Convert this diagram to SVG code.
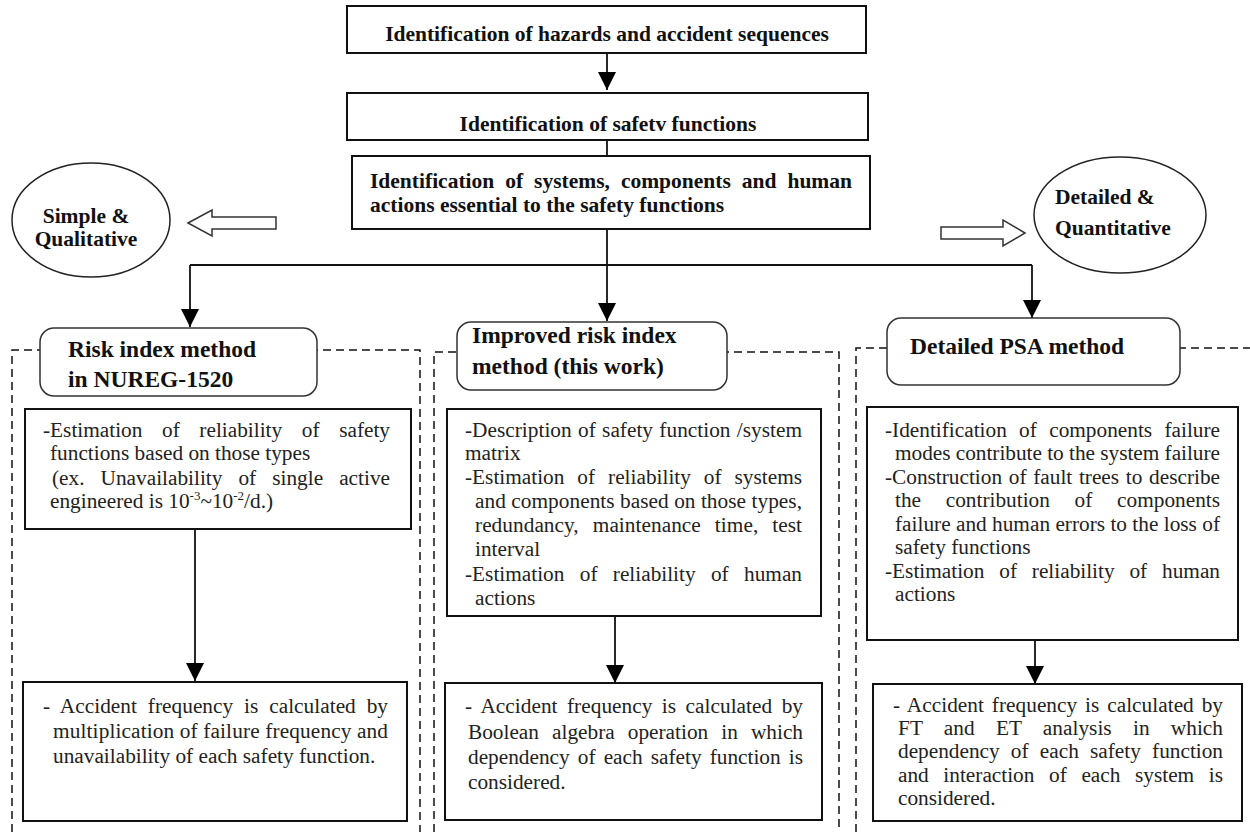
<svg xmlns="http://www.w3.org/2000/svg" width="1250" height="832" viewBox="0 0 1250 832">
<style>
.box{fill:#fff;stroke:#111;stroke-width:2}
.hdr{fill:#fff;stroke:#333;stroke-width:1.5}
.ell{fill:#fff;stroke:#222;stroke-width:1.5}
.dash{fill:none;stroke:#111;stroke-width:1.5;stroke-dasharray:8 5}
.ln{fill:none;stroke:#111;stroke-width:1.8}
.hol{fill:#fff;stroke:#333;stroke-width:1.5}
.b{font-family:"Liberation Serif","Times New Roman",serif;font-weight:bold;font-size:21.5px;fill:#111}
.h{font-family:"Liberation Serif","Times New Roman",serif;font-weight:bold;font-size:23.5px;fill:#111}
.t{font-family:"Liberation Serif","Times New Roman",serif;font-size:21.3px;fill:#222}
.mid{text-anchor:middle}
</style>
<defs>
<marker id="ah" markerUnits="userSpaceOnUse" markerWidth="18" markerHeight="18" refX="18" refY="9" orient="auto">
<path d="M0,0 L18,9 L0,18 Z" fill="#000"/>
</marker>
</defs>

<g id="containers">
<path class="dash" d="M12,832 V350 H420 V832"/>
<path class="dash" d="M434,832 V352 H839 V832"/>
<path class="dash" d="M856,832 V348 H1262"/>
</g>

<g id="connectors">
<line class="ln" x1="607" y1="53" x2="607" y2="90" marker-end="url(#ah)"/>
<line class="ln" x1="607" y1="140" x2="607" y2="156"/>
<line class="ln" x1="607" y1="229" x2="607" y2="321" marker-end="url(#ah)"/>
<line class="ln" x1="190" y1="265" x2="1032" y2="265"/>
<line class="ln" x1="190" y1="265" x2="190" y2="327" marker-end="url(#ah)"/>
<line class="ln" x1="1032" y1="265" x2="1032" y2="318" marker-end="url(#ah)"/>
<line class="ln" x1="195" y1="529" x2="195" y2="681" marker-end="url(#ah)"/>
<line class="ln" x1="615" y1="616" x2="615" y2="683" marker-end="url(#ah)"/>
<line class="ln" x1="1035" y1="640" x2="1035" y2="684" marker-end="url(#ah)"/>
<polygon class="hol" points="188,223 212,210 212,217 276,217 276,229 212,229 212,236"/>
<polygon class="hol" points="941,227 1003,227 1003,220 1025,233 1003,246 1003,239 941,239"/>
</g>

<g id="n-hazards">
<rect class="box" x="347" y="6" width="519" height="47"/>
<text class="b mid" x="607" y="41">Identification of hazards and accident sequences</text>
</g>
<g id="n-safety-functions">
<rect class="box" x="347" y="93" width="521" height="47"/>
<text class="b mid" x="608" y="131">Identification of safetv functions</text>
</g>
<g id="n-systems">
<rect class="box" x="352" y="156" width="518" height="73"/>
<text class="b" x="370" y="188" word-spacing="5.6" textLength="482" lengthAdjust="spacing">Identification of systems, components and human</text>
<text class="b" x="370" y="212">actions essential to the safety functions</text>
</g>

<g id="n-simple">
<ellipse class="ell" cx="91" cy="220" rx="79" ry="57"/>
<text class="b mid" x="86" y="223">Simple &amp;</text>
<text class="b mid" x="86" y="246">Qualitative</text>
</g>
<g id="n-detailed">
<ellipse class="ell" cx="1120" cy="215" rx="86" ry="58"/>
<text class="b" x="1055" y="204">Detailed &amp;</text>
<text class="b" x="1055" y="235">Quantitative</text>
</g>

<g id="n-risk-index">
<rect class="hdr" x="40" y="328" width="277" height="68" rx="14"/>
<text class="h" x="68" y="357">Risk index method</text>
<text class="h" x="68" y="387">in NUREG-1520</text>
</g>
<g id="n-improved">
<rect class="hdr" x="457" y="322" width="270" height="68" rx="14"/>
<text class="h" x="472" y="343">Improved risk index</text>
<text class="h" x="472" y="374">method (this work)</text>
</g>
<g id="n-psa">
<rect class="hdr" x="887" y="318" width="293" height="67" rx="14"/>
<text class="h" x="910" y="354">Detailed PSA method</text>
</g>

<g id="n-left-1">
<rect class="box" x="25" y="409" width="386" height="120"/>
<text class="t" x="43" y="437" word-spacing="14.3" textLength="347" lengthAdjust="spacing">-Estimation of reliability of safety</text>
<text class="t" x="50" y="460">functions based on those types</text>
<text class="t" x="52" y="485" word-spacing="10.7" textLength="338" lengthAdjust="spacing">(ex. Unavailability of single active</text>
<text class="t" x="50" y="508">engineered is 10<tspan font-size="13" dy="-8">-3</tspan><tspan dy="8">~10</tspan><tspan font-size="13" dy="-8">-2</tspan><tspan dy="8">/d.)</tspan></text>
</g>
<g id="n-left-2">
<rect class="box" x="23" y="682" width="384" height="139"/>
<text class="t" x="43" y="713" word-spacing="5.5" textLength="345" lengthAdjust="spacing">- Accident frequency is calculated by</text>
<text class="t" x="53" y="738" textLength="335" lengthAdjust="spacing">multiplication of failure frequency and</text>
<text class="t" x="53" y="763">unavailability of each safety function.</text>
</g>

<g id="n-mid-1">
<rect class="box" x="447" y="409" width="374" height="207"/>
<text class="t" x="465" y="437" word-spacing="1" textLength="337" lengthAdjust="spacing">-Description of safety function /system</text>
<text class="t" x="465" y="460">matrix</text>
<text class="t" x="465" y="484" word-spacing="7.6" textLength="337" lengthAdjust="spacing">-Estimation of reliability of systems</text>
<text class="t" x="475" y="508" textLength="327" lengthAdjust="spacing">and components based on those types,</text>
<text class="t" x="475" y="532" word-spacing="8.7" textLength="327" lengthAdjust="spacing">redundancy, maintenance time, test</text>
<text class="t" x="475" y="556">interval</text>
<text class="t" x="465" y="581" word-spacing="10" textLength="337" lengthAdjust="spacing">-Estimation of reliability of human</text>
<text class="t" x="475" y="605">actions</text>
</g>
<g id="n-mid-2">
<rect class="box" x="445" y="683" width="377" height="137"/>
<text class="t" x="465" y="713" word-spacing="4.1" textLength="338" lengthAdjust="spacing">- Accident frequency is calculated by</text>
<text class="t" x="468" y="739" word-spacing="7.8" textLength="335" lengthAdjust="spacing">Boolean algebra operation in which</text>
<text class="t" x="468" y="764" word-spacing="2.8" textLength="335" lengthAdjust="spacing">dependency of each safety function is</text>
<text class="t" x="468" y="789">considered.</text>
</g>

<g id="n-right-1">
<rect class="box" x="867" y="407" width="371" height="233"/>
<text class="t" x="885" y="437" word-spacing="7" textLength="335" lengthAdjust="spacing">-Identification of components failure</text>
<text class="t" x="895" y="460" textLength="325" lengthAdjust="spacing">modes contribute to the system failure</text>
<text class="t" x="885" y="484" word-spacing="1.4" textLength="335" lengthAdjust="spacing">-Construction of fault trees to describe</text>
<text class="t" x="895" y="507" word-spacing="19.4" textLength="325" lengthAdjust="spacing">the contribution of components</text>
<text class="t" x="895" y="531" textLength="325" lengthAdjust="spacing">failure and human errors to the loss of</text>
<text class="t" x="895" y="554">safety functions</text>
<text class="t" x="885" y="578" word-spacing="9.5" textLength="335" lengthAdjust="spacing">-Estimation of reliability of human</text>
<text class="t" x="895" y="601">actions</text>
</g>
<g id="n-right-2">
<rect class="box" x="873" y="684" width="369" height="137"/>
<text class="t" x="893" y="712" word-spacing="2.5" textLength="330" lengthAdjust="spacing">- Accident frequency is calculated by</text>
<text class="t" x="898" y="735" word-spacing="15.9" textLength="325" lengthAdjust="spacing">FT and ET analysis in which</text>
<text class="t" x="898" y="758" word-spacing="5.9" textLength="325" lengthAdjust="spacing">dependency of each safety function</text>
<text class="t" x="898" y="782" word-spacing="9.3" textLength="325" lengthAdjust="spacing">and interaction of each system is</text>
<text class="t" x="898" y="805">considered.</text>
</g>
</svg>
